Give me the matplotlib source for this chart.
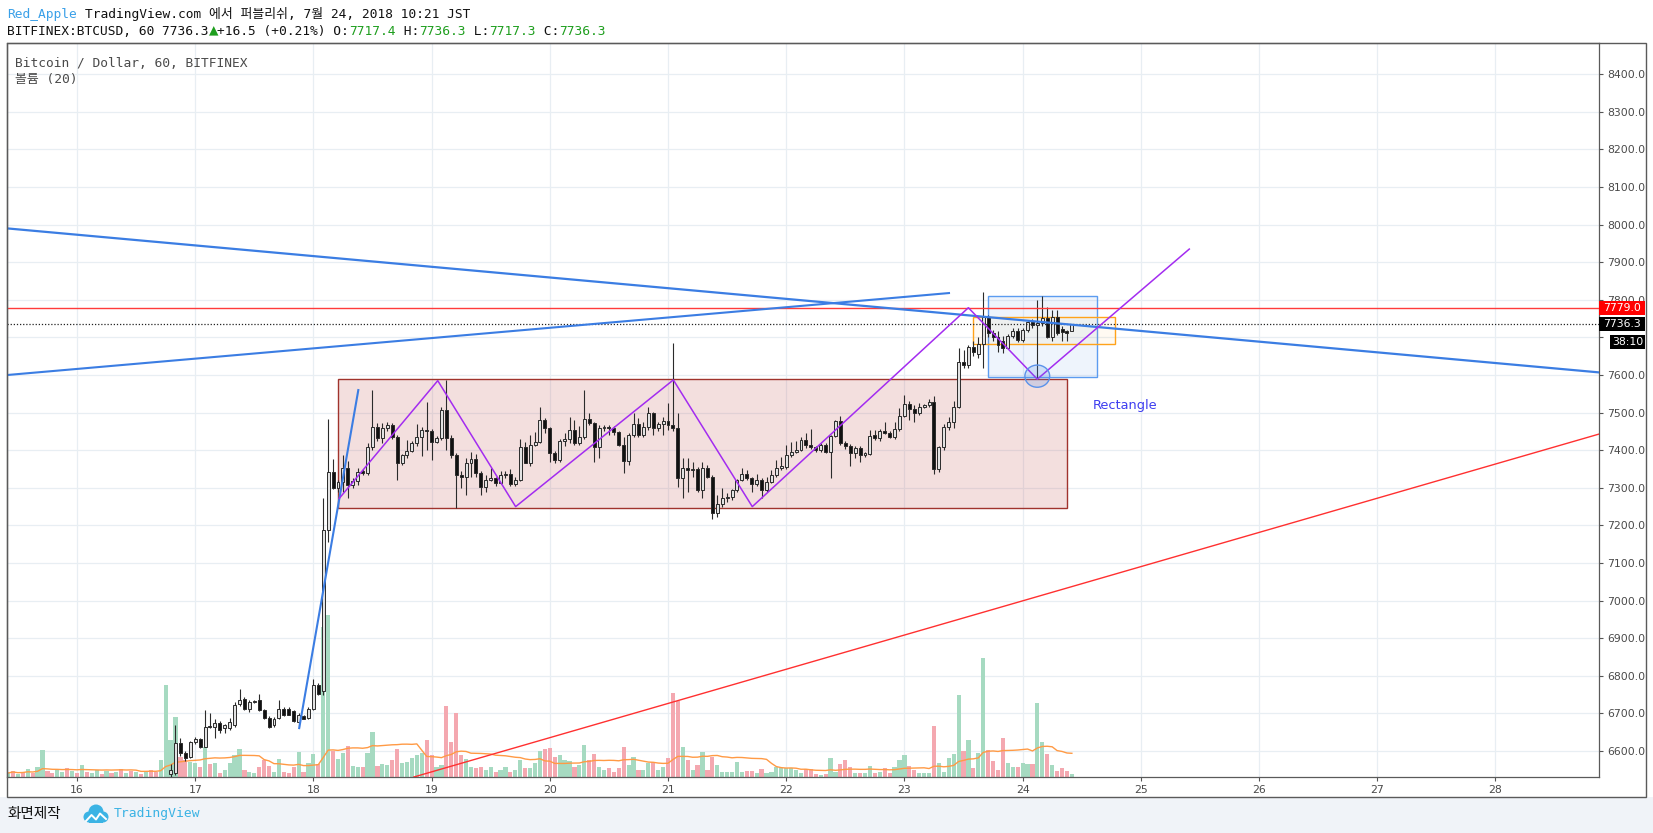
import matplotlib
matplotlib.use("Agg")
import matplotlib.pyplot as plt
from matplotlib.patches import Rectangle, Ellipse, Circle
from matplotlib.transforms import blended_transform_factory
import numpy as np
import pandas as pd

# BTCUSD hourly candles (Bitfinex), first visible one 16 Jul 19:00 JST
start_hour = 16 + 19 / 24

opens = [6540, 6542, 6621, 6595, 6584, 6625, 6632, 6612, 6667, 6665,
         6675, 6660, 6660, 6670, 6725, 6738, 6712, 6731, 6736, 6708,
         6688, 6668, 6689, 6713, 6712, 6707, 6678, 6692, 6689, 6713,
         6776, 6760, 7188, 7341, 7300, 7316, 7352, 7308, 7318, 7345,
         7340, 7408, 7463, 7432, 7460, 7466, 7435, 7365, 7387, 7399,
         7418, 7436, 7454, 7450, 7423, 7432, 7507, 7432, 7387, 7334,
         7328, 7365, 7377, 7340, 7301, 7322, 7326, 7313, 7334, 7338,
         7310, 7320, 7409, 7367, 7414, 7423, 7480, 7458, 7392, 7374,
         7425, 7430, 7454, 7420, 7436, 7482, 7472, 7409, 7458, 7462,
         7460, 7448, 7414, 7372, 7440, 7470, 7440, 7461, 7498, 7458,
         7471, 7477, 7466, 7458, 7325, 7352, 7348, 7350, 7294, 7354,
         7330, 7234, 7257, 7272, 7276, 7294, 7322, 7338, 7325, 7309,
         7322, 7294, 7316, 7334, 7352, 7356, 7387, 7396, 7401, 7427,
         7414, 7408, 7400, 7414, 7396, 7438, 7478, 7420, 7412, 7392,
         7405, 7387, 7390, 7440, 7432, 7452, 7446, 7436, 7456, 7491,
         7524, 7509, 7498, 7516, 7520, 7529, 7350, 7409, 7463, 7476,
         7516, 7635, 7627, 7674, 7655, 7682, 7755, 7712, 7702, 7690,
         7671, 7703, 7717, 7693, 7721, 7740, 7733, 7738, 7751, 7702,
         7755, 7722, 7717, 7717.4]
highs = [6565, 6670, 6635, 6600, 6628, 6638, 6636, 6708, 6700, 6685,
         6680, 6672, 6687, 6731, 6765, 6745, 6735, 6735, 6753, 6712,
         6692, 6690, 6736, 6718, 6716, 6710, 6700, 6696, 6716, 6791,
         6780, 7272, 7482, 7377, 7320, 7386, 7372, 7325, 7352, 7350,
         7418, 7560, 7472, 7472, 7475, 7472, 7440, 7390, 7427, 7425,
         7471, 7463, 7529, 7456, 7438, 7516, 7588, 7440, 7392, 7345,
         7380, 7395, 7390, 7345, 7334, 7352, 7330, 7345, 7345, 7350,
         7330, 7429, 7422, 7440, 7449, 7516, 7485, 7462, 7398, 7431,
         7445, 7489, 7480, 7465, 7560, 7498, 7476, 7467, 7467, 7467,
         7465, 7452, 7435, 7445, 7498, 7485, 7476, 7516, 7502, 7475,
         7489, 7525, 7686, 7498, 7380, 7380, 7370, 7356, 7370, 7360,
         7335, 7280, 7300, 7285, 7298, 7324, 7354, 7348, 7330, 7338,
         7326, 7330, 7348, 7374, 7383, 7414, 7422, 7425, 7436, 7445,
         7456, 7412, 7418, 7418, 7440, 7480, 7491, 7425, 7416, 7410,
         7410, 7395, 7454, 7454, 7456, 7474, 7450, 7474, 7511, 7547,
         7532, 7520, 7525, 7524, 7535, 7545, 7412, 7470, 7489, 7530,
         7671, 7667, 7680, 7690, 7700, 7821, 7760, 7720, 7716, 7705,
         7710, 7725, 7725, 7725, 7745, 7748, 7800, 7810, 7782, 7773,
         7773, 7730, 7720, 7736.3]
lows = [6528, 6535, 6588, 6574, 6582, 6620, 6608, 6610, 6660, 6634,
        6648, 6648, 6655, 6665, 6720, 6708, 6705, 6728, 6706, 6685,
        6662, 6665, 6686, 6692, 6695, 6678, 6663, 6684, 6686, 6710,
        6750, 6750, 7157, 7297, 7290, 7290, 7272, 7300, 7308, 7335,
        7335, 7400, 7425, 7418, 7452, 7430, 7321, 7360, 7380, 7395,
        7412, 7385, 7400, 7374, 7418, 7428, 7401, 7380, 7246, 7300,
        7280, 7330, 7330, 7280, 7290, 7318, 7305, 7310, 7325, 7305,
        7305, 7318, 7365, 7358, 7410, 7418, 7446, 7370, 7365, 7370,
        7412, 7420, 7415, 7415, 7430, 7468, 7370, 7379, 7450, 7440,
        7440, 7410, 7340, 7360, 7436, 7436, 7436, 7455, 7440, 7452,
        7440, 7455, 7452, 7303, 7272, 7290, 7330, 7290, 7272, 7325,
        7216, 7222, 7250, 7262, 7268, 7290, 7318, 7320, 7290, 7305,
        7272, 7290, 7312, 7330, 7348, 7350, 7383, 7392, 7398, 7405,
        7404, 7396, 7396, 7392, 7325, 7434, 7415, 7402, 7358, 7380,
        7370, 7383, 7386, 7428, 7425, 7442, 7432, 7430, 7450, 7488,
        7480, 7476, 7494, 7512, 7516, 7338, 7343, 7400, 7454, 7460,
        7512, 7620, 7620, 7650, 7645, 7618, 7700, 7690, 7662, 7658,
        7668, 7698, 7688, 7688, 7715, 7725, 7591, 7730, 7698, 7690,
        7707, 7690, 7690, 7717.3]
closes = [6550, 6621, 6595, 6582, 6625, 6632, 6612, 6665, 6663, 6675,
          6657, 6668, 6678, 6722, 6736, 6713, 6730, 6733, 6708, 6688,
          6665, 6686, 6713, 6695, 6697, 6681, 6695, 6686, 6713, 6775,
          6753, 7188, 7341, 7300, 7316, 7352, 7308, 7318, 7343, 7340,
          7408, 7463, 7432, 7460, 7466, 7435, 7365, 7387, 7399, 7418,
          7436, 7454, 7450, 7423, 7432, 7507, 7432, 7387, 7334, 7328,
          7365, 7377, 7340, 7301, 7322, 7326, 7313, 7334, 7338, 7310,
          7320, 7409, 7367, 7414, 7423, 7480, 7458, 7392, 7374, 7425,
          7430, 7454, 7420, 7436, 7482, 7472, 7409, 7458, 7463, 7458,
          7448, 7414, 7372, 7440, 7470, 7440, 7461, 7498, 7458, 7471,
          7478, 7466, 7458, 7325, 7352, 7348, 7350, 7294, 7354, 7330,
          7234, 7257, 7272, 7276, 7294, 7322, 7338, 7325, 7309, 7322,
          7294, 7316, 7334, 7352, 7358, 7387, 7396, 7401, 7427, 7414,
          7408, 7400, 7414, 7396, 7438, 7478, 7420, 7412, 7392, 7405,
          7387, 7392, 7438, 7432, 7452, 7446, 7436, 7456, 7491, 7524,
          7509, 7498, 7516, 7520, 7529, 7350, 7409, 7463, 7476, 7516,
          7635, 7627, 7674, 7660, 7682, 7755, 7712, 7702, 7680, 7671,
          7703, 7717, 7693, 7721, 7740, 7733, 7738, 7751, 7702, 7755,
          7711, 7715, 7712, 7736.3]
volume = [37, 60, 20, 17, 15, 14, 10, 30, 13, 14,
          4, 7, 14, 22, 28, 7, 5, 4, 10, 17,
          11, 5, 18, 5, 4, 10, 25, 5, 14, 23,
          13, 150, 162, 26, 18, 24, 31, 11, 10, 10,
          24, 45, 11, 13, 12, 17, 28, 14, 15, 19,
          22, 24, 37, 22, 10, 12, 71, 35, 64, 22,
          18, 10, 9, 10, 7, 10, 5, 7, 10, 5,
          7, 17, 9, 9, 14, 26, 28, 29, 20, 22,
          17, 16, 10, 12, 32, 17, 23, 10, 7, 9,
          5, 9, 30, 12, 20, 7, 7, 14, 15, 7,
          10, 19, 84, 76, 30, 17, 7, 12, 25, 7,
          20, 12, 5, 5, 5, 15, 5, 6, 6, 4,
          8, 4, 5, 10, 9, 9, 9, 7, 4, 8,
          8, 3, 2, 3, 19, 5, 13, 17, 10, 4,
          4, 4, 11, 4, 5, 9, 4, 10, 17, 22,
          11, 7, 4, 4, 4, 51, 14, 5, 19, 23,
          82, 26, 37, 9, 24, 119, 27, 16, 7, 39,
          14, 10, 10, 14, 13, 13, 74, 35, 23, 12,
          6, 9, 6, 3]

# volume from 15 Jul 10:00 while price was still below the visible range
early_start = 15 + 10 / 24
early_volume = [4, 6, 3, 5, 8, 4, 10, 27, 6, 4, 7, 5, 9, 6, 4, 12, 5,
                4, 7, 3, 6, 4, 5, 8, 4, 6, 5, 3, 6, 7, 5, 17, 92]
early_up = [1, 0, 1, 0, 1, 0, 1, 1, 0, 0, 1, 1, 0, 1, 0, 1, 0,
            1, 1, 0, 1, 0, 1, 0, 1, 0, 1, 0, 1, 0, 0, 1, 1]

# drawings (day of July, price)
desc_line = [(15.408, 7990), (28.876, 7607)]
asc_blue = [(15.408, 7600), (23.377, 7818)]
steep_blue = [(17.88, 6661), (18.38, 7560)]
red_trend = [(18.85, 6531), (28.876, 7443)]
zigzag_x = [18.219, 19.052, 19.711, 21.045, 21.713, 23.541, 24.124, 25.41]
zigzag_y = [7272, 7585, 7250, 7587, 7250, 7779, 7589, 7935]
range_box = (18.21, 24.373, 7246, 7589)
blue_box = (23.71, 24.627, 7596, 7811)
orange_box = (23.583, 24.785, 7682, 7754)
red_level = 7779.0
last_price = 7736.3
day_ticks = list(range(16, 29))
price_ticks = list(range(6600, 8401, 100))

W, H, DPI = 1653, 833, 100
xmin, xmax = 15.408, 28.876
ymin, ymax = 6531, 8483
mono = ['DejaVu Sans Mono', 'Noto Sans CJK KR']

fig = plt.figure(figsize=(W / DPI, H / DPI), dpi=DPI, facecolor='white')

# page background (pixel coords), behind the chart
bg = fig.add_axes([0, 0, 1, 1], zorder=-1)
bg.set_xlim(0, W)
bg.set_ylim(H, 0)
bg.axis('off')
bg.add_patch(Rectangle((0, 797), W, H - 797, color='#f0f3f8', lw=0))

ax = fig.add_axes([7 / W, 1 - 777 / H, 1592 / W, 734 / H])
ax.set_xlim(xmin, xmax)
ax.set_ylim(ymin, ymax)
ax.set_axisbelow(True)
ax.grid(True, color='#e8eef3', lw=0.9)
for s in ax.spines.values():
    s.set_color('#5a5a5a')
    s.set_linewidth(0.9)

ax.set_xticks(day_ticks)
ax.set_xticklabels([str(d) for d in day_ticks])
ax.yaxis.tick_right()
ax.set_yticks(price_ticks)
# 7700 sits under the price tags
ax.set_yticklabels(['' if p == 7700 else f'{p:.1f}' for p in price_ticks])
ax.tick_params(axis='both', direction='out', length=3, color='#555555',
               labelsize=7.8, labelcolor='#4a4a4a')
ax.tick_params(axis='y', pad=3)
ax.tick_params(axis='x', pad=3)

# volume + MA(20)
t = start_hour + np.arange(len(closes)) / 24
o, hi, lo, c = (np.array(v, float) for v in (opens, highs, lows, closes))
up = c >= o
vol_t = np.concatenate([early_start + np.arange(len(early_volume)) / 24, t])
vol = np.array(early_volume + volume, float)
vol_up = np.concatenate([np.array(early_up, bool), up])
px = (ymax - ymin) / 734
ax.bar(vol_t, vol * px, bottom=ymin, width=0.85 / 24,
       color=np.where(vol_up, '#a6dac1', '#f4a8b0'), lw=0, zorder=1.2)
ma = pd.Series(vol).rolling(20, min_periods=1).mean()
ax.plot(vol_t, ymin + ma * px, color='#ff9a45', lw=1, zorder=1.3)

# boxes
x0, x1, y0, y1 = range_box
ax.add_patch(Rectangle((x0, y0), x1 - x0, y1 - y0, facecolor=(0.75, 0.31, 0.30, 0.18),
                       edgecolor='#a0332d', lw=1, zorder=1.5))
x0, x1, y0, y1 = blue_box
ax.add_patch(Rectangle((x0, y0), x1 - x0, y1 - y0, facecolor=(0.29, 0.53, 0.91, 0.09),
                       edgecolor='#5c9cf0', lw=1, zorder=1.5))
x0, x1, y0, y1 = orange_box
ax.add_patch(Rectangle((x0, y0), x1 - x0, y1 - y0, facecolor=(1, 0.65, 0, 0.05),
                       edgecolor='#ffa31a', lw=1, zorder=1.6))

# candles
ax.vlines(t, lo, hi, color='#2b2b2b', lw=0.8, zorder=3)
body = np.maximum(np.abs(c - o), 1.5)
ax.bar(t, body, bottom=np.minimum(o, c), width=0.6 / 24,
       color=np.where(up, '#e2e2e2', '#111111'), edgecolor='#2b2b2b',
       linewidth=0.7, zorder=4)

# levels and trend lines
ax.axhline(red_level, color='#ff3b3b', lw=1, zorder=5)
ax.axhline(last_price, color='#222222', lw=0.9, ls=(0, (1, 1.5)), zorder=5)
for pts, col, lw in [(desc_line, '#3b7de3', 1.6), (asc_blue, '#3b7de3', 1.5),
                     (steep_blue, '#3b7de3', 1.5), (red_trend, '#ff3030', 1.0)]:
    ax.plot([p[0] for p in pts], [p[1] for p in pts], color=col, lw=lw, zorder=5)
ax.plot(zigzag_x, zigzag_y, color='#a32cf0', lw=1.1, zorder=6)
ax.add_patch(Ellipse((zigzag_x[6], 7597), 0.21, 59, facecolor=(0.29, 0.53, 0.91, 0.2),
                     edgecolor='#5a92ea', lw=1, zorder=6))
ax.text(24.593, 7520, 'Rectangle', color='#3d3df0', fontsize=9.3,
        va='center', ha='left', family='DejaVu Sans', zorder=7)

# price tags on the right scale
tr = blended_transform_factory(ax.transAxes, ax.transData)
tag_w = 46 / 1592
tag_h = 14 * px
for val, col, txt, xs in [(red_level, '#ff0000', f'{red_level:.1f}', 0.0),
                          (last_price, '#000000', f'{last_price:.1f}', 0.0),
                          (7688, '#000000', '38:10', 11 / 1592)]:
    ax.add_patch(Rectangle((1.0 + xs, val - tag_h / 2), tag_w - xs, tag_h, transform=tr,
                           facecolor=col, edgecolor='none', clip_on=False, zorder=8))
    ax.text(1.0 + xs + (tag_w - xs) / 2, val, txt, transform=tr, color='white',
            fontsize=7.8, ha='center', va='center', clip_on=False, zorder=9)

# texts and frame on top (pixel coords)
ov = fig.add_axes([0, 0, 1, 1], zorder=5)
ov.set_xlim(0, W)
ov.set_ylim(H, 0)
ov.axis('off')
ov.patch.set_alpha(0)
ov.add_patch(Rectangle((7, 43), 1639, 754, fill=False, edgecolor='#5a5a5a', lw=1))

# header
fs = 9.3
cw = 0.6021 * fs * DPI / 72
ov.text(7, 14, 'Red_Apple', color='#3aa0e8', fontsize=fs, family=mono, va='center')
ov.text(7 + 10 * cw, 14, 'TradingView.com 에서 퍼블리쉬, 7월 24, 2018 10:21 JST',
        color='#111111', fontsize=fs, family=mono, va='center')
green = '#1e9e1e'
segs = [('BITFINEX:BTCUSD, 60 7736.3', '#111111'), ('▲', green), ('+16.5 (+0.21%) O:', '#111111'),
        ('7717.4', green), (' H:', '#111111'), ('7736.3', green), (' L:', '#111111'),
        ('7717.3', green), (' C:', '#111111'), ('7736.3', green)]
xx = 7
for s, col in segs:
    ov.text(xx, 31, s, color=col, fontsize=fs if s != '▲' else fs + 2,
            family=mono, va='center')
    xx += len(s) * cw

ov.text(15, 63, 'Bitcoin / Dollar, 60, BITFINEX', color='#4a4a4a', fontsize=9.3,
        family=mono, va='center')
ov.text(15, 79, '볼륨 (20)', color='#4a4a4a', fontsize=9.3, family=mono, va='center')

# footer
ov.text(7, 814, '화면제작', color='#111111', fontsize=10.5, family=['Noto Sans CJK KR'], va='center')
logo = '#3bb3e4'
for cx, cy, r in [(89, 817, 5.5), (96, 812, 7.5), (103, 817, 5.5)]:
    ov.add_patch(Circle((cx, cy), r, color=logo, lw=0))
ov.add_patch(Rectangle((89, 814), 14, 8.5, color=logo, lw=0))
ov.plot([86, 91.5, 96, 100, 106], [821, 815, 819.5, 813.5, 819], color='white', lw=1.4)
ov.text(114, 814, 'TradingView', color=logo, fontsize=9.4, family=mono, va='center')

fig.savefig('out.png', dpi=DPI, facecolor='white')
